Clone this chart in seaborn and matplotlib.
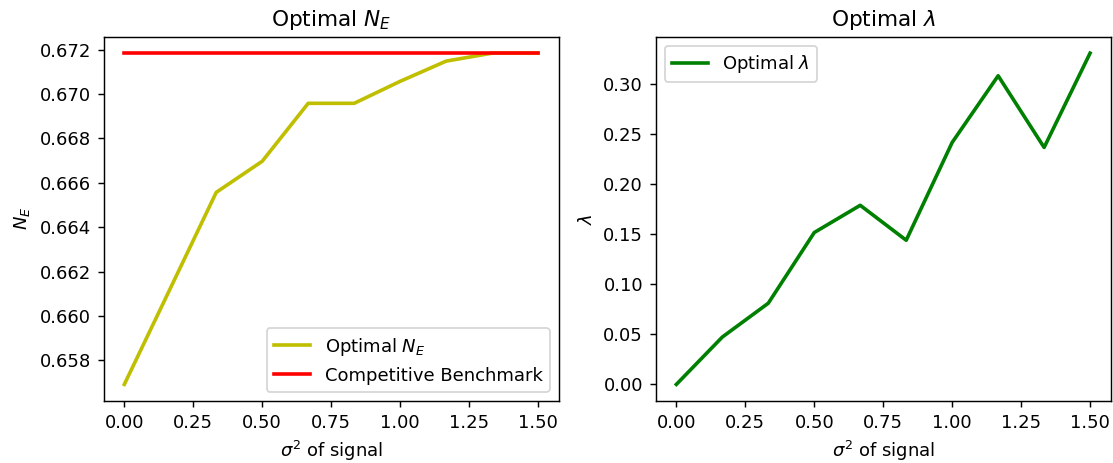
import pandas as pd
import seaborn as sns
import matplotlib
matplotlib.use("Agg")
import matplotlib.pyplot as plt
from matplotlib.ticker import MultipleLocator

# sigma^2 of signal grid
sigma2 = [0.0, 1/6, 2/6, 3/6, 4/6, 5/6, 1.0, 7/6, 8/6, 1.5]

# optimal N_E
optimal_ne = [0.65692, 0.66124, 0.66557, 0.66697, 0.66958, 0.66958,
              0.67057, 0.67148, 0.67184, 0.67184]
# competitive benchmark (flat)
benchmark_ne = 0.67184

# optimal lambda
optimal_lam = [0.0, 0.0473, 0.0811, 0.1517, 0.1789, 0.1440,
               0.2417, 0.3083, 0.2367, 0.3309]

df = pd.DataFrame({
    "sigma2": sigma2,
    "ne": optimal_ne,
    "bench": [benchmark_ne] * len(sigma2),
    "lam": optimal_lam,
})

dpi = 130
fig, axes = plt.subplots(1, 2, figsize=(1113 / dpi, 463 / dpi), dpi=dpi)
fig.subplots_adjust(left=0.0931, right=0.998, bottom=0.134, top=0.921, wspace=0.213)

ax = axes[0]
sns.lineplot(data=df, x="sigma2", y="ne", ax=ax, color="y", linewidth=2,
             label=r"Optimal $N_E$")
sns.lineplot(data=df, x="sigma2", y="bench", ax=ax, color="r", linewidth=2,
             label="Competitive Benchmark")
ax.set_title(r"Optimal $N_E$")
ax.set_xlabel(r"$\sigma^2$ of signal")
ax.set_ylabel(r"$N_E$")
ax.legend(loc="lower right")

ax = axes[1]
sns.lineplot(data=df, x="sigma2", y="lam", ax=ax, color="g", linewidth=2,
             label=r"Optimal $\lambda$")
ax.set_title(r"Optimal $\lambda$")
ax.set_xlabel(r"$\sigma^2$ of signal")
ax.set_ylabel(r"$\lambda$")
ax.legend(loc="upper left")

for ax in axes:
    ax.xaxis.set_major_locator(MultipleLocator(0.25))

plt.savefig("out.png", dpi=dpi)
